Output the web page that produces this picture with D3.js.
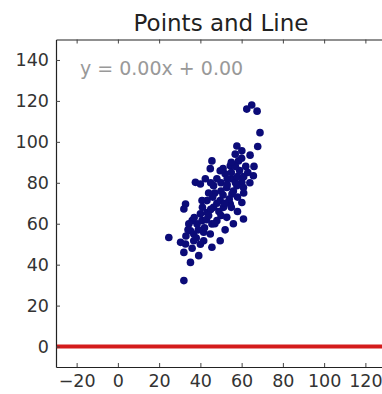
<!DOCTYPE html>
<html>
<head>
<meta charset="utf-8">
<script src="https://cdn.jsdelivr.net/npm/d3@7"></script>
<style>
  body { margin: 0; background: #fff; }
  text { font-family: "DejaVu Sans", sans-serif; }
</style>
</head>
<body>
<div class="chart"></div>
<script>
// scatter values
const xs = [64.9, 62.5, 67.5, 68.9, 67.8, 57.7, 60.1, 64.1, 56.9, 58.5, 45.6, 54.5, 44.8, 49.6, 52, 65.7,
  37.6, 42.4, 55.3, 60.1, 24.7, 32.8, 32, 32, 35.2, 39.2, 32, 30.4, 32.8, 36.8, 35.2, 38.4, 40.8, 36,
  40, 43.2, 45.6, 44.8, 41.6, 45.6, 49.6, 52.8, 51.2, 60.1, 60.9, 49.6, 46.4, 55.3, 40, 46.4, 52.8,
  57.7, 60.9, 43.2, 34.4, 36.8, 48, 41.6, 40.8, 54.5, 47, 50, 53, 55, 57, 58, 56, 54, 51, 48, 46, 49,
  52, 55, 58, 61, 59, 62, 63, 60, 57, 53, 50, 45, 43, 42, 44, 47, 39, 38, 40, 36, 33, 34, 37, 41, 44,
  48, 51, 55, 45, 61, 64, 66, 58, 56, 52, 50];
const ys = [118, 116, 115, 104.5, 97.7, 98, 95.6, 93.5, 94, 90.7, 90.7, 88.3, 86.9, 85.9, 84.4, 83.4,
  80.2, 82, 82, 80.2, 53.3, 69.6, 67.2, 46, 41.1, 44.4, 32.2, 50.9, 50.1, 55, 56.6, 59.9, 61.5, 61.5,
  64.8, 65.5, 59.9, 55, 55.8, 48.5, 51.7, 63.1, 68, 70.4, 62.3, 71.3, 68, 74.5, 79.4, 78.6, 77.7,
  78.6, 77.7, 71.3, 59.9, 51.7, 61.5, 51.7, 71.3, 69.6, 75, 80, 82, 85, 80, 83, 76, 72, 74, 70, 73, 66,
  70, 68, 73, 75, 86, 88, 85, 92, 88, 79, 76, 67, 62, 58, 64, 60, 57, 53, 50, 48, 54, 57, 63, 68, 75,
  82, 87, 90, 80, 83, 80, 88, 66, 60, 57, 64];
const xTicks = [-20, 0, 20, 40, 60, 80, 100, 120];
const yTicks = [0, 20, 40, 60, 80, 100, 120, 140];
const fitLine = [[-30, 0], [130, 0]];

const W = 382, H = 394;
const box = {left: 56, right: 386, top: 39.5, bottom: 367};

const svg = d3.select('.chart').append('svg')
  .attr('width', W).attr('height', H);

const x = d3.scaleLinear().domain([-30, 130]).range([box.left, box.right]);
const y = d3.scaleLinear().domain([-10, 150]).range([box.bottom, box.top]);

svg.append('clipPath').attr('id', 'clip')
  .append('rect').attr('x', box.left).attr('y', box.top)
  .attr('width', box.right - box.left).attr('height', box.bottom - box.top);

const plot = svg.append('g').attr('clip-path', 'url(#clip)');

plot.selectAll('circle')
  .data(d3.zip(xs, ys))
  .enter()
  .append('circle')
  .attr('cx', d => x(d[0]))
  .attr('cy', d => y(d[1]))
  .attr('r', 3.8)
  .style('fill', '#0b0b78');

plot.append('path')
  .datum(fitLine)
  .attr('d', d3.line().x(d => x(d[0])).y(d => y(d[1])))
  .style('stroke', '#d41c1c')
  .style('stroke-width', 4)
  .style('fill', 'none');

// axes, matplotlib classic look: ticks point inward on all four sides
const tickLen = 4;
svg.append('g').attr('transform', `translate(0,${box.bottom})`)
  .call(d3.axisBottom(x).tickValues(xTicks).tickSizeInner(-tickLen).tickSizeOuter(0).tickPadding(8)
    .tickFormat(d => d < 0 ? '\u2212' + Math.abs(d) : d));
svg.append('g').attr('transform', `translate(0,${box.top})`)
  .call(d3.axisTop(x).tickValues(xTicks).tickSizeInner(-tickLen).tickSizeOuter(0).tickFormat(''));
svg.append('g').attr('transform', `translate(${box.left},0)`)
  .call(d3.axisLeft(y).tickValues(yTicks).tickSizeInner(-tickLen).tickSizeOuter(0).tickPadding(7));
svg.append('g').attr('transform', `translate(${box.right},0)`)
  .call(d3.axisRight(y).tickValues(yTicks).tickSizeInner(-tickLen).tickSizeOuter(0).tickFormat(''));

svg.selectAll('.tick text')
  .style('font-size', '17.5px')
  .style('fill', '#333');
svg.selectAll('.tick line').style('stroke', '#444');
svg.selectAll('.domain').style('stroke', '#222').style('stroke-width', 1.2);

svg.append('text')
  .attr('x', (box.left + box.right) / 2)
  .attr('y', 31)
  .attr('text-anchor', 'middle')
  .style('font-size', '23px')
  .style('fill', '#222')
  .text('Points and Line');

svg.append('text')
  .attr('x', 80)
  .attr('y', 75)
  .style('font-size', '19px')
  .style('fill', '#999')
  .text('y = 0.00x + 0.00');
</script>
</body>
</html>
